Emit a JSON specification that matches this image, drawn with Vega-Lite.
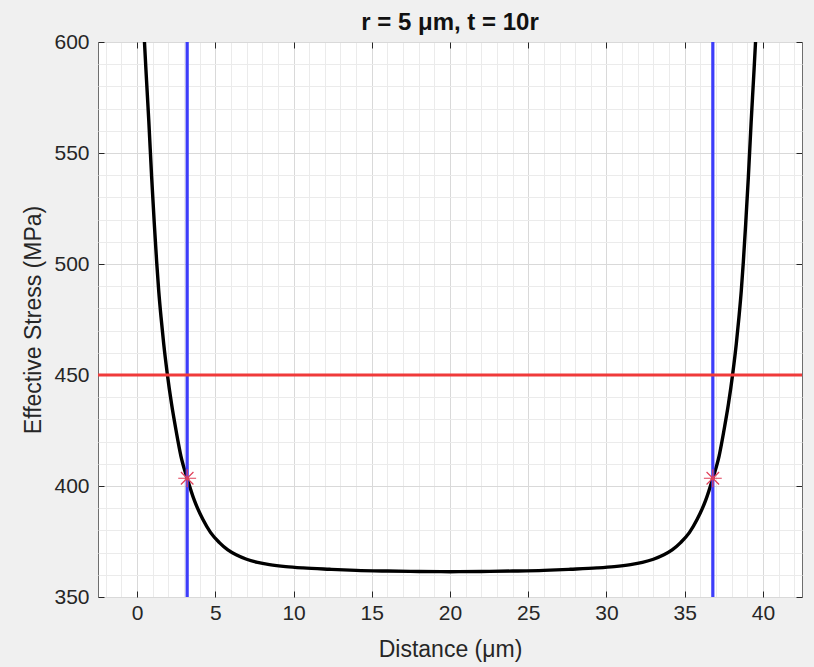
{
  "$schema": "https://vega.github.io/schema/vega-lite/v6.json",
  "width": 704,
  "height": 555,
  "autosize": {"type": "none"},
  "padding": {"left": 98, "top": 42, "right": 12, "bottom": 70},
  "background": "#f0f0f0",
  "config": {
    "view": {"fill": "white", "stroke": "#6e6e6e", "strokeWidth": 1},
    "font": "Liberation Sans",
    "axis": {"labelFont": "Liberation Sans", "titleFont": "Liberation Sans", "labelColor": "#262626", "titleColor": "#262626", "titleFontWeight": "normal", "domain": false, "tickColor": "#262626"}
  },
  "title": {"text": "r = 5 μm, t = 10r", "fontSize": 24, "fontWeight": "bold", "color": "#111111", "offset": -4, "anchor": "middle", "font": "Liberation Sans"},
  "datasets": {
    "curve": [
      {"x": 0.40, "y": 611}, {"x": 0.47, "y": 600}, {"x": 0.60, "y": 583}, {"x": 0.75, "y": 564},
      {"x": 0.93, "y": 539}, {"x": 1.10, "y": 518}, {"x": 1.25, "y": 501}, {"x": 1.38, "y": 488},
      {"x": 1.53, "y": 476}, {"x": 1.70, "y": 464}, {"x": 1.92, "y": 451}, {"x": 2.20, "y": 437},
      {"x": 2.49, "y": 425}, {"x": 2.80, "y": 413.5}, {"x": 3.20, "y": 403.5}, {"x": 3.66, "y": 393.5},
      {"x": 4.20, "y": 385}, {"x": 4.70, "y": 379}, {"x": 5.26, "y": 374.5}, {"x": 5.80, "y": 371.2},
      {"x": 6.33, "y": 369}, {"x": 7.00, "y": 367}, {"x": 7.70, "y": 365.6}, {"x": 8.46, "y": 364.6},
      {"x": 9.50, "y": 363.7}, {"x": 10.6, "y": 363.1}, {"x": 12.3, "y": 362.5}, {"x": 14.0, "y": 362.0},
      {"x": 16.0, "y": 361.7}, {"x": 18.0, "y": 361.5}, {"x": 20.0, "y": 361.4},
      {"x": 22.0, "y": 361.5}, {"x": 24.0, "y": 361.7}, {"x": 26.0, "y": 362.0}, {"x": 27.7, "y": 362.5},
      {"x": 29.4, "y": 363.1}, {"x": 30.5, "y": 363.7}, {"x": 31.54, "y": 364.6}, {"x": 32.3, "y": 365.6},
      {"x": 33.0, "y": 367}, {"x": 33.67, "y": 369}, {"x": 34.2, "y": 371.2}, {"x": 34.74, "y": 374.5},
      {"x": 35.3, "y": 379}, {"x": 35.8, "y": 385}, {"x": 36.34, "y": 393.5}, {"x": 36.8, "y": 403.5},
      {"x": 37.2, "y": 413.5}, {"x": 37.51, "y": 425}, {"x": 37.8, "y": 437}, {"x": 38.08, "y": 451},
      {"x": 38.3, "y": 464}, {"x": 38.47, "y": 476}, {"x": 38.62, "y": 488}, {"x": 38.75, "y": 501},
      {"x": 38.9, "y": 518}, {"x": 39.07, "y": 539}, {"x": 39.25, "y": 564}, {"x": 39.4, "y": 583},
      {"x": 39.53, "y": 600}, {"x": 39.6, "y": 611}
    ],
    "vlines": [{"x": 3.2}, {"x": 36.8}],
    "hline": [{"y": 450}],
    "stars": [{"x": 3.2, "y": 403.5}, {"x": 36.8, "y": 403.5}]
  },
  "resolve": {"axis": {"x": "independent", "y": "independent"}},
  "layer": [
    {
      "data": {"name": "curve"},
      "mark": {"type": "line", "color": "black", "strokeWidth": 3.4, "interpolate": "monotone", "clip": true},
      "encoding": {
        "x": {"field": "x", "type": "quantitative", "scale": {"domain": [-2.5, 42.5], "nice": false, "zero": false},
          "axis": {"orient": "top", "values": [-2,-1,0,1,2,3,4,5,6,7,8,9,10,11,12,13,14,15,16,17,18,19,20,21,22,23,24,25,26,27,28,29,30,31,32,33,34,35,36,37,38,39,40,41,42], "grid": true, "gridColor": "#ebebeb", "ticks": false, "labels": false, "title": null}},
        "y": {"field": "y", "type": "quantitative", "scale": {"domain": [350, 600], "nice": false, "zero": false},
          "axis": {"orient": "right", "values": [360,370,380,390,400,410,420,430,440,450,460,470,480,490,500,510,520,530,540,550,560,570,580,590], "grid": true, "gridColor": "#ebebeb", "ticks": false, "labels": false, "title": null}}
      }
    },
    {
      "data": {"name": "vlines"},
      "mark": {"type": "rule", "color": "#3d3dfa", "strokeWidth": 3.2},
      "encoding": {
        "x": {"field": "x", "type": "quantitative", "scale": {"domain": [-2.5, 42.5], "nice": false, "zero": false},
          "axis": {"orient": "bottom", "values": [0,5,10,15,20,25,30,35,40], "grid": true, "gridColor": "#d9d9d9", "tickSize": -6, "labelPadding": 11, "labelFontSize": 21, "title": "Distance (μm)", "titleFontSize": 23, "titlePadding": 15}}
      }
    },
    {
      "data": {"name": "hline"},
      "mark": {"type": "rule", "color": "#f03a3a", "strokeWidth": 3.2},
      "encoding": {
        "y": {"field": "y", "type": "quantitative", "scale": {"domain": [350, 600], "nice": false, "zero": false},
          "axis": {"orient": "left", "values": [350,400,450,500,550,600], "grid": true, "gridColor": "#d9d9d9", "tickSize": -6, "labelPadding": 15, "labelFontSize": 21, "title": "Effective Stress (MPa)", "titleFontSize": 23, "titlePadding": 8}}
      }
    },
    {
      "data": {"name": "stars"},
      "mark": {"type": "point", "shape": "M-1,0L1,0M0,-1L0,1M-0.7,-0.7L0.7,0.7M-0.7,0.7L0.7,-0.7", "size": 320, "filled": false, "color": "#e0405a", "strokeWidth": 1.2, "opacity": 1},
      "encoding": {
        "x": {"field": "x", "type": "quantitative", "scale": {"domain": [-2.5, 42.5], "nice": false, "zero": false},
          "axis": {"orient": "top", "values": [0,5,10,15,20,25,30,35,40], "grid": false, "tickSize": -6, "labels": false, "title": null}},
        "y": {"field": "y", "type": "quantitative", "scale": {"domain": [350, 600], "nice": false, "zero": false},
          "axis": {"orient": "right", "values": [350,400,450,500,550,600], "grid": false, "tickSize": -6, "labels": false, "title": null}}
      }
    }
  ]
}
